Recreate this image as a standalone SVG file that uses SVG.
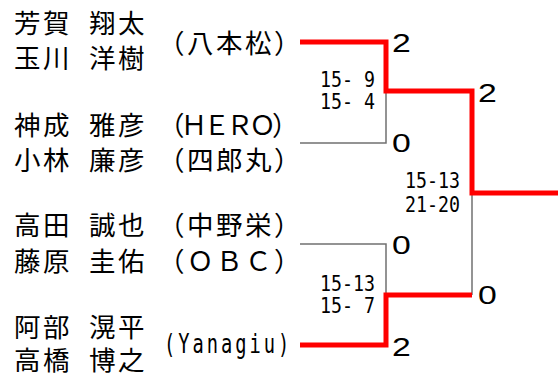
<svg xmlns="http://www.w3.org/2000/svg" width="558" height="378" viewBox="0 0 558 378">
<style>
.nm{font-family:"Noto Sans CJK JP","Noto Sans CJK SC",sans-serif;font-size:26.5px;letter-spacing:2.5px;fill:#000}
.sc{font-family:"DejaVu Sans Mono",monospace;font-size:21px;fill:#000}
.rd{font-family:"Liberation Sans",Arial,sans-serif;font-size:26px;fill:#000}
.win{fill:none;stroke:#ff0000;stroke-width:5;stroke-linejoin:miter;stroke-linecap:butt}
.lose{fill:none;stroke:#707070;stroke-width:1.5}
</style>
<rect width="558" height="378" fill="#ffffff"/>
<g id="connectors">
<polyline class="lose" points="386,91 386,143 300,143"/>
<polyline class="lose" points="300,244 386,244 386,295"/>
<polyline class="lose" points="472,193 472,295"/>
<polyline class="win" points="300,42 386,42 386,91 472,91 472,193 558,193"/>
<polyline class="win" points="300,345 386,345 386,295 472,295"/>
</g>
<g id="team1">
<text class="nm" x="14" y="33">芳賀</text><text class="nm" x="89" y="33">翔太</text>
<text class="nm" x="14" y="68">玉川</text><text class="nm" x="89" y="68">洋樹</text>
<text class="nm" x="158" y="53">（八本松）</text>
</g>
<g id="team2">
<text class="nm" x="14" y="135">神成</text><text class="nm" x="89" y="135">雅彦</text>
<text class="nm" x="158" y="135" textLength="143" lengthAdjust="spacing">（ＨＥＲＯ）</text>
</g>
<g id="team3">
<text class="nm" x="14" y="170">小林</text><text class="nm" x="89" y="170">廉彦</text>
<text class="nm" x="158" y="170">（四郎丸）</text>
</g>
<g id="team4">
<text class="nm" x="14" y="235">高田</text><text class="nm" x="89" y="235">誠也</text>
<text class="nm" x="158" y="235">（中野栄）</text>
</g>
<g id="team5">
<text class="nm" x="14" y="271">藤原</text><text class="nm" x="89" y="271">圭佑</text>
<text class="nm" x="158" y="271">（ＯＢＣ）</text>
</g>
<g id="team6">
<text class="nm" x="14" y="337">阿部</text><text class="nm" x="89" y="337">滉平</text>
<text class="nm" x="14" y="370">高橋</text><text class="nm" x="89" y="370">博之</text>
<text transform="translate(164,353) scale(0.72,1)" style="font-family:'DejaVu Sans Mono',monospace;font-size:26px" textLength="174" lengthAdjust="spacing">(Yanagiu)</text>
</g>
<g id="scores">
<text class="sc" x="320" y="87" textLength="55" lengthAdjust="spacingAndGlyphs" xml:space="preserve">15- 9</text>
<text class="sc" x="320" y="109" textLength="55" lengthAdjust="spacingAndGlyphs" xml:space="preserve">15- 4</text>
<text class="sc" x="405" y="188" textLength="55" lengthAdjust="spacingAndGlyphs">15-13</text>
<text class="sc" x="405" y="212" textLength="55" lengthAdjust="spacingAndGlyphs">21-20</text>
<text class="sc" x="320" y="291" textLength="55" lengthAdjust="spacingAndGlyphs">15-13</text>
<text class="sc" x="320" y="313" textLength="55" lengthAdjust="spacingAndGlyphs" xml:space="preserve">15- 7</text>
</g>
<g id="results">
<text class="rd" transform="translate(392,52) scale(1.3,1)">2</text>
<text class="rd" transform="translate(478,102) scale(1.3,1)">2</text>
<text class="rd" transform="translate(392,152) scale(1.3,1)">0</text>
<text class="rd" transform="translate(392,254) scale(1.3,1)">0</text>
<text class="rd" transform="translate(478,304) scale(1.3,1)">0</text>
<text class="rd" transform="translate(392,356) scale(1.3,1)">2</text>
</g>
</svg>
